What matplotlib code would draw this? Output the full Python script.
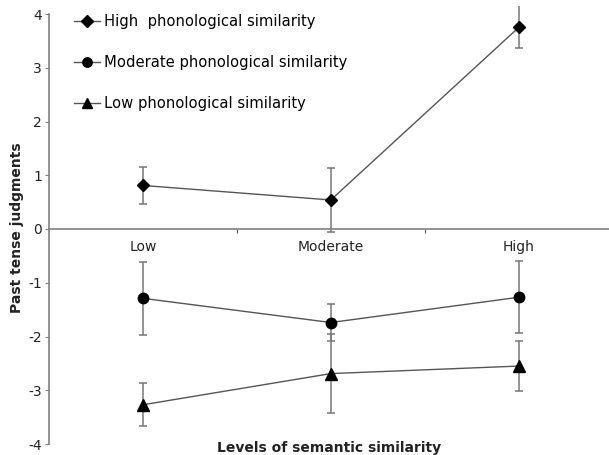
import matplotlib
matplotlib.use("Agg")
import matplotlib.pyplot as plt
import numpy as np

categories = ["Low", "Moderate", "High"]
series_names = ["High  phonological similarity",
                "Moderate phonological similarity",
                "Low phonological similarity"]
high_vals = [0.81, 0.54, 3.75]
high_err = [0.34, 0.60, 0.39]
mod_vals = [-1.29, -1.74, -1.27]
mod_err = [0.68, 0.34, 0.67]
low_vals = [-3.27, -2.69, -2.55]
low_err = [0.40, 0.73, 0.47]
yticks = [-4, -3, -2, -1, 0, 1, 2, 3, 4]

fig = plt.figure(figsize=(6.09, 4.55), dpi=100)
ax = fig.add_axes([49/609, 11/455, 1 - 49/609 + 0.006, 430/455])

x = np.arange(len(categories))
markers = ["D", "o", "^"]
msizes = [6.5, 7.5, 8]
for vals, errs, name, m, ms in zip([high_vals, mod_vals, low_vals],
                                   [high_err, mod_err, low_err],
                                   series_names, markers, msizes):
    eb = ax.errorbar(x, vals, yerr=errs, fmt="none", ecolor="#777777",
                     elinewidth=1.1, capsize=3, capthick=1.1, zorder=2)
    for lc in eb[2]:
        lc.set_clip_on(False)
    ax.plot(x, vals, color="#555555", lw=1.0, marker=m, markersize=ms,
            markerfacecolor="black", markeredgecolor="black", label=name,
            zorder=3)

ax.set_xlim(-0.5, 2.5)
ax.set_ylim(-4, 4)
ax.spines["top"].set_visible(False)
ax.spines["right"].set_visible(False)
ax.spines["bottom"].set_position(("data", 0))
for s in ["left", "bottom"]:
    ax.spines[s].set_color("#808080")
    ax.spines[s].set_linewidth(1.2)
ax.set_xticks([0.5, 1.5])
ax.set_xticklabels([])
ax.tick_params(axis="x", direction="out", length=3, color="#555555")
ax.set_yticks(yticks)
ax.set_yticklabels([str(t) for t in yticks], fontsize=10, color="#222222")
ax.tick_params(axis="y", direction="out", length=3, color="#808080", pad=2)

for xi, c in zip(x, categories):
    ax.text(xi, -0.33, c, ha="center", va="center", fontsize=10, color="#222222")

leg = ax.legend(loc="upper left", bbox_to_anchor=(0.02, 1.03), frameon=False,
                fontsize=10.6, labelspacing=1.75, handlelength=1.8,
                handletextpad=0.3, markerscale=0.9)

fig.text(0.028, 0.5, "Past tense judgments", rotation=90, ha="center",
         va="center", fontsize=10, fontweight="bold", color="#222222")
fig.text((49 + 609) / 2 / 609, 7/455, "Levels of semantic similarity",
         ha="center", va="center", fontsize=10, fontweight="bold",
         color="#222222")

fig.savefig("out.png", dpi=100)
